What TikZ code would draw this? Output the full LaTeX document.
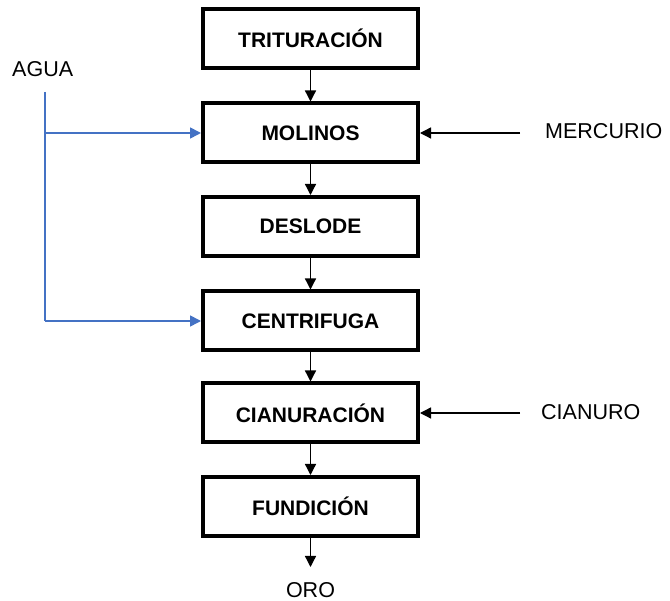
\documentclass[tikz,border=0pt]{standalone}
\usepackage{fontspec}
\setmainfont{Liberation Sans}
\usetikzlibrary{arrows.meta}
\definecolor{aguablue}{HTML}{4472C4}
\begin{document}
\begin{tikzpicture}[x=1pt,y=-1pt,
  stepbox/.style={draw=black,line width=4pt,minimum width=215pt,minimum height=59pt,inner sep=0pt,
    font=\fontsize{21}{24}\selectfont\bfseries},
  lbl/.style={inner sep=0pt,font=\fontsize{21.5}{24}\selectfont},
  flow/.style={draw=black,line width=1.3pt,-{Triangle[length=11pt,width=11pt]}},
  water/.style={draw=aguablue,line width=1.6pt,-{Triangle[length=11pt,width=11pt]}}]
\useasboundingbox (0,0) rectangle (670,601);
\node[stepbox] (t) at (310.5,38.5) {TRITURACIÓN};
\node[stepbox] (m) at (310.5,133) {MOLINOS};
\node[stepbox] (d) at (310.5,226.5) {DESLODE};
\node[stepbox] (c) at (310.5,321) {CENTRIFUGA};
\node[stepbox] (ci) at (310.5,413) {CIANURACIÓN};
\node[stepbox] (f) at (310.5,506.5) {FUNDICIÓN};
\node[lbl] (oro) at (310.5,590) {ORO};
\node[lbl,anchor=west] (agua) at (12,69) {AGUA};
\node[lbl,anchor=west] (merc) at (545,131) {MERCURIO};
\node[lbl,anchor=west] (cian) at (541,412) {CIANURO};
\coordinate (atop) at (45,92);
\coordinate (abot) at (45,321);
\coordinate (mend) at (520,133);
\coordinate (cend) at (520,413);
\coordinate (oend) at (310.5,567);
\draw[flow] (t) -- (m);
\draw[flow] (m) -- (d);
\draw[flow] (d) -- (c);
\draw[flow] (c) -- (ci);
\draw[flow] (ci) -- (f);
\draw[flow] (f.south) -- (oend);
\draw[flow] (mend) -- (m.east);
\draw[flow] (cend) -- (ci.east);
\draw[aguablue,line width=1.6pt] (atop) -- (abot);
\draw[water] (atop |- m.west) -- (m.west);
\draw[water] (abot) -- (c.west);
\end{tikzpicture}
\end{document}
